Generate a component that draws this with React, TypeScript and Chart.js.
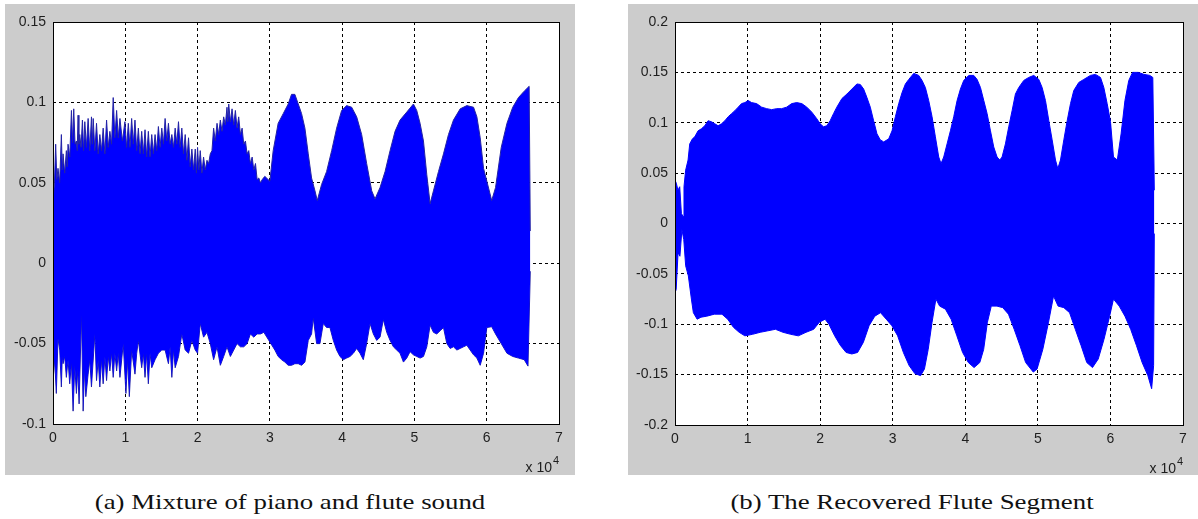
import React, { useEffect, useRef } from "react";
import { Chart, registerables } from "chart.js";

Chart.register(...registerables);

// ---------- axis ticks ----------
const xTicks = [0, 1, 2, 3, 4, 5, 6, 7];
const xTickLabels = ["0", "1", "2", "3", "4", "5", "6", "7"];
const xScaleText = "x 10";
const xScaleExp = "4";

const aYTicks = [-0.1, -0.05, 0, 0.05, 0.1, 0.15];
const aYTickLabels = ["-0.1", "-0.05", "0", "0.05", "0.1", "0.15"];
const bYTicks = [-0.2, -0.15, -0.1, -0.05, 0, 0.05, 0.1, 0.15, 0.2];
const bYTickLabels = ["-0.2", "-0.15", "-0.1", "-0.05", "0", "0.05", "0.1", "0.15", "0.2"];

const captionA = "(a) Mixture of piano and flute sound";
const captionB = "(b) The Recovered Flute Segment";

// ---------- (a) mixture: upper envelope (sample index, x10^4) ----------
const aUpperX = [
  0.000, 0.020, 0.037, 0.053, 0.069, 0.092, 0.116, 0.128, 0.139, 0.162, 0.185, 0.197, 0.208, 0.232,
  0.255, 0.271, 0.287, 0.305, 0.324, 0.335, 0.347, 0.358, 0.370, 0.388, 0.407, 0.423, 0.440, 0.463,
  0.486, 0.509, 0.532, 0.544, 0.556, 0.579, 0.602, 0.625, 0.648, 0.671, 0.694, 0.718, 0.741, 0.764,
  0.787, 0.810, 0.833, 0.856, 0.880, 0.903, 0.926, 0.960, 0.995, 1.018, 1.042, 1.065, 1.088, 1.111,
  1.134, 1.158, 1.181, 1.204, 1.227, 1.250, 1.273, 1.296, 1.319, 1.342, 1.366, 1.389, 1.412, 1.435,
  1.458, 1.481, 1.505, 1.528, 1.551, 1.574, 1.597, 1.620, 1.644, 1.667, 1.690, 1.713, 1.736, 1.759,
  1.782, 1.805, 1.829, 1.852, 1.875, 1.898, 1.921, 1.944, 1.968, 1.984, 2.000, 2.018, 2.037, 2.060,
  2.083, 2.106, 2.130, 2.153, 2.176, 2.199, 2.222, 2.245, 2.269, 2.292, 2.315, 2.338, 2.361, 2.384,
  2.407, 2.419, 2.431, 2.454, 2.477, 2.500, 2.523, 2.546, 2.569, 2.593, 2.616, 2.639, 2.662, 2.685,
  2.708, 2.731, 2.755, 2.778, 2.801, 2.824, 2.847, 2.870, 2.894, 2.930, 3.000, 3.046, 3.115, 3.185,
  3.254, 3.300, 3.346, 3.393, 3.439, 3.485, 3.531, 3.577, 3.624, 3.656, 3.716, 3.785, 3.855, 3.924,
  3.993, 4.062, 4.132, 4.201, 4.270, 4.339, 4.409, 4.455, 4.524, 4.594, 4.663, 4.732, 4.801, 4.894,
  4.986, 5.032, 5.078, 5.125, 5.171, 5.217, 5.263, 5.333, 5.402, 5.471, 5.540, 5.633, 5.725, 5.818,
  5.864, 5.910, 5.956, 6.002, 6.069, 6.122, 6.201, 6.280, 6.360, 6.439, 6.519, 6.587, 6.603,
];
const aUpperY = [
  0.038, 0.050, 0.074, 0.052, 0.059, 0.050, 0.080, 0.058, 0.068, 0.056, 0.070, 0.060, 0.074, 0.066,
  0.095, 0.075, 0.096, 0.074, 0.076, 0.070, 0.092, 0.074, 0.080, 0.072, 0.089, 0.070, 0.088, 0.072,
  0.090, 0.070, 0.091, 0.074, 0.090, 0.070, 0.087, 0.068, 0.080, 0.070, 0.084, 0.068, 0.089, 0.072,
  0.082, 0.074, 0.103, 0.078, 0.095, 0.078, 0.090, 0.076, 0.088, 0.072, 0.087, 0.072, 0.090, 0.074,
  0.089, 0.070, 0.084, 0.068, 0.082, 0.068, 0.083, 0.066, 0.082, 0.066, 0.080, 0.068, 0.080, 0.070,
  0.085, 0.072, 0.084, 0.074, 0.090, 0.076, 0.087, 0.074, 0.080, 0.072, 0.084, 0.074, 0.088, 0.072,
  0.084, 0.068, 0.080, 0.064, 0.078, 0.060, 0.071, 0.058, 0.071, 0.056, 0.072, 0.058, 0.070, 0.056,
  0.066, 0.058, 0.064, 0.062, 0.068, 0.070, 0.084, 0.076, 0.087, 0.080, 0.089, 0.082, 0.091, 0.086,
  0.097, 0.088, 0.099, 0.088, 0.096, 0.086, 0.095, 0.084, 0.091, 0.080, 0.084, 0.074, 0.076, 0.068,
  0.070, 0.062, 0.066, 0.058, 0.062, 0.052, 0.053, 0.050, 0.052, 0.054, 0.051, 0.070, 0.087, 0.093,
  0.099, 0.105, 0.105, 0.099, 0.093, 0.084, 0.068, 0.053, 0.045, 0.039, 0.049, 0.057, 0.070, 0.084,
  0.095, 0.098, 0.097, 0.091, 0.080, 0.062, 0.045, 0.040, 0.047, 0.057, 0.070, 0.082, 0.089, 0.094,
  0.099, 0.095, 0.087, 0.076, 0.055, 0.037, 0.045, 0.057, 0.068, 0.080, 0.089, 0.096, 0.098, 0.097,
  0.091, 0.078, 0.059, 0.051, 0.039, 0.047, 0.072, 0.087, 0.097, 0.103, 0.107, 0.110, 0.020,
];

// ---------- (a) mixture: lower envelope ----------
const aLowerX = [
  0.000, 0.023, 0.046, 0.069, 0.093, 0.116, 0.128, 0.139, 0.162, 0.185, 0.208, 0.231, 0.255, 0.278,
  0.301, 0.324, 0.343, 0.361, 0.394, 0.417, 0.435, 0.454, 0.486, 0.509, 0.532, 0.579, 0.602, 0.625,
  0.648, 0.671, 0.694, 0.718, 0.741, 0.764, 0.787, 0.810, 0.833, 0.856, 0.880, 0.903, 0.926, 0.972,
  1.009, 1.032, 1.056, 1.088, 1.134, 1.158, 1.181, 1.227, 1.250, 1.273, 1.296, 1.319, 1.342, 1.366,
  1.412, 1.458, 1.505, 1.551, 1.597, 1.620, 1.644, 1.667, 1.690, 1.736, 1.782, 1.829, 1.875, 1.921,
  1.968, 2.000, 2.037, 2.083, 2.130, 2.176, 2.222, 2.269, 2.315, 2.361, 2.407, 2.454, 2.500, 2.546,
  2.593, 2.639, 2.685, 2.731, 2.778, 2.824, 2.870, 2.917, 3.000, 3.069, 3.115, 3.162, 3.208, 3.254,
  3.300, 3.346, 3.393, 3.439, 3.485, 3.531, 3.577, 3.600, 3.647, 3.693, 3.739, 3.785, 3.831, 3.878,
  3.924, 3.970, 4.016, 4.062, 4.109, 4.155, 4.201, 4.247, 4.293, 4.339, 4.386, 4.432, 4.478, 4.524,
  4.570, 4.617, 4.663, 4.709, 4.755, 4.801, 4.848, 4.894, 4.940, 4.986, 5.032, 5.079, 5.125, 5.171,
  5.217, 5.263, 5.309, 5.356, 5.402, 5.448, 5.494, 5.540, 5.587, 5.633, 5.679, 5.725, 5.771, 5.818,
  5.864, 5.910, 5.956, 6.002, 6.069, 6.122, 6.201, 6.280, 6.360, 6.439, 6.519, 6.571, 6.603,
];
const aLowerY = [
  -0.073, -0.060, -0.081, -0.047, -0.054, -0.077, -0.058, -0.0625, -0.058, -0.071, -0.060, -0.075, -0.062, -0.092,
  -0.064, -0.081, -0.066, -0.0875, -0.032, -0.092, -0.066, -0.083, -0.069, -0.060, -0.077, -0.044, -0.073, -0.060,
  -0.077, -0.060, -0.075, -0.058, -0.073, -0.058, -0.067, -0.056, -0.071, -0.056, -0.067, -0.056, -0.071, -0.050,
  -0.081, -0.060, -0.083, -0.054, -0.069, -0.056, -0.048, -0.065, -0.056, -0.071, -0.056, -0.075, -0.056, -0.065,
  -0.060, -0.056, -0.054, -0.054, -0.0625, -0.052, -0.071, -0.054, -0.065, -0.058, -0.044, -0.054, -0.056, -0.048,
  -0.054, -0.056, -0.0375, -0.046, -0.043, -0.050, -0.060, -0.052, -0.0635, -0.058, -0.052, -0.058, -0.054, -0.050,
  -0.052, -0.052, -0.050, -0.044, -0.046, -0.044, -0.044, -0.043, -0.049, -0.054, -0.058, -0.060, -0.0615, -0.0635,
  -0.0635, -0.0625, -0.0625, -0.0635, -0.0615, -0.048, -0.044, -0.034, -0.050, -0.050, -0.0375, -0.040, -0.040, -0.048,
  -0.054, -0.058, -0.060, -0.059, -0.058, -0.056, -0.053, -0.056, -0.060, -0.050, -0.0375, -0.044, -0.048, -0.046,
  -0.035, -0.043, -0.048, -0.052, -0.054, -0.056, -0.0615, -0.059, -0.055, -0.057, -0.058, -0.059, -0.058, -0.052,
  -0.0385, -0.043, -0.044, -0.042, -0.040, -0.050, -0.053, -0.052, -0.054, -0.053, -0.052, -0.051, -0.054, -0.057,
  -0.059, -0.0635, -0.056, -0.040, -0.0395, -0.044, -0.050, -0.056, -0.058, -0.059, -0.060, -0.064, -0.005,
];

// ---------- (b) recovered flute: upper envelope ----------
const bUpperX = [
  0.000, 0.018, 0.041, 0.065, 0.088, 0.111, 0.124, 0.147, 0.180, 0.203, 0.240, 0.272, 0.318, 0.364,
  0.410, 0.456, 0.502, 0.548, 0.594, 0.641, 0.687, 0.733, 0.779, 0.825, 0.871, 0.917, 0.963, 1.009,
  1.055, 1.124, 1.194, 1.263, 1.332, 1.401, 1.470, 1.539, 1.608, 1.677, 1.747, 1.816, 1.885, 1.954,
  2.000, 2.046, 2.092, 2.138, 2.184, 2.230, 2.300, 2.369, 2.438, 2.507, 2.553, 2.599, 2.645, 2.691,
  2.737, 2.783, 2.829, 2.876, 2.945, 2.991, 3.037, 3.083, 3.129, 3.175, 3.221, 3.290, 3.358, 3.404,
  3.450, 3.496, 3.542, 3.588, 3.634, 3.666, 3.703, 3.749, 3.795, 3.841, 3.887, 3.933, 3.979, 4.048,
  4.117, 4.163, 4.209, 4.255, 4.301, 4.347, 4.392, 4.438, 4.475, 4.507, 4.553, 4.599, 4.645, 4.691,
  4.737, 4.806, 4.875, 4.944, 5.013, 5.059, 5.105, 5.151, 5.197, 5.243, 5.275, 5.312, 5.358, 5.404,
  5.450, 5.495, 5.564, 5.633, 5.725, 5.794, 5.863, 5.909, 5.955, 6.001, 6.042, 6.095, 6.147, 6.200,
  6.253, 6.305, 6.384, 6.463, 6.542, 6.584, 6.605,
];
const bUpperY = [
  0.043, 0.040, 0.033, 0.0365, 0.010, 0.007, 0.0365, 0.053, 0.063, 0.079, 0.084, 0.086, 0.092, 0.094,
  0.097, 0.102, 0.101, 0.099, 0.097, 0.099, 0.102, 0.106, 0.109, 0.112, 0.1155, 0.119, 0.120, 0.122,
  0.120, 0.119, 0.1155, 0.114, 0.113, 0.114, 0.114, 0.1155, 0.119, 0.120, 0.119, 0.1155, 0.1105, 0.104,
  0.099, 0.096, 0.097, 0.102, 0.109, 0.1155, 0.124, 0.1285, 0.1335, 0.1385, 0.138, 0.1335, 0.125, 0.1155,
  0.102, 0.089, 0.083, 0.081, 0.084, 0.092, 0.106, 0.119, 0.130, 0.1385, 0.143, 0.149, 0.147, 0.142,
  0.135, 0.122, 0.106, 0.086, 0.066, 0.0595, 0.066, 0.079, 0.092, 0.106, 0.122, 0.1335, 0.142, 0.147,
  0.147, 0.143, 0.135, 0.122, 0.109, 0.092, 0.076, 0.066, 0.063, 0.066, 0.079, 0.096, 0.112, 0.1285,
  0.135, 0.142, 0.145, 0.147, 0.143, 0.135, 0.122, 0.102, 0.083, 0.063, 0.0545, 0.063, 0.083, 0.102,
  0.119, 0.132, 0.140, 0.143, 0.147, 0.148, 0.145, 0.135, 0.119, 0.101, 0.066, 0.063, 0.089, 0.122,
  0.142, 0.150, 0.150, 0.148, 0.147, 0.145, 0.033,
];

// ---------- (b) recovered flute: lower envelope ----------
const bLowerX = [
  0.000, 0.016, 0.042, 0.068, 0.095, 0.121, 0.147, 0.184, 0.226, 0.253, 0.305, 0.358, 0.437, 0.542,
  0.647, 0.726, 0.805, 0.884, 0.963, 1.068, 1.174, 1.279, 1.384, 1.489, 1.595, 1.700, 1.805, 1.911,
  1.989, 2.068, 2.121, 2.200, 2.279, 2.358, 2.437, 2.516, 2.595, 2.674, 2.753, 2.832, 2.911, 2.989,
  3.068, 3.147, 3.226, 3.305, 3.384, 3.437, 3.489, 3.542, 3.595, 3.647, 3.726, 3.805, 3.884, 3.963,
  4.042, 4.121, 4.200, 4.253, 4.305, 4.358, 4.437, 4.516, 4.595, 4.674, 4.753, 4.832, 4.937, 4.989,
  5.068, 5.147, 5.216, 5.279, 5.358, 5.437, 5.516, 5.595, 5.674, 5.753, 5.832, 5.911, 5.989, 6.042,
  6.121, 6.200, 6.279, 6.358, 6.437, 6.516, 6.568, 6.595, 6.605,
];
const bLowerY = [
  -0.069, -0.0655, -0.029, -0.0325, -0.006, -0.016, -0.042, -0.052, -0.075, -0.0885, -0.095, -0.093, -0.092, -0.090,
  -0.090, -0.095, -0.103, -0.108, -0.1115, -0.110, -0.108, -0.1065, -0.105, -0.108, -0.110, -0.1115, -0.108, -0.105,
  -0.098, -0.095, -0.100, -0.1115, -0.121, -0.128, -0.1295, -0.128, -0.118, -0.1015, -0.092, -0.0885, -0.095, -0.1015,
  -0.1115, -0.128, -0.141, -0.149, -0.151, -0.1445, -0.125, -0.098, -0.075, -0.082, -0.085, -0.095, -0.1115, -0.128,
  -0.138, -0.143, -0.138, -0.125, -0.098, -0.082, -0.082, -0.0835, -0.090, -0.105, -0.121, -0.138, -0.1475, -0.1445,
  -0.125, -0.098, -0.072, -0.082, -0.0835, -0.0885, -0.105, -0.121, -0.138, -0.143, -0.1345, -0.115, -0.092, -0.075,
  -0.082, -0.092, -0.105, -0.121, -0.138, -0.151, -0.164, -0.141, -0.010,
];

// ---------- chart construction ----------
const TICK_FONT = { family: "'Liberation Sans', Arial, sans-serif", size: 14 };
const TICK_COLOR = "#1e1e1e";

function toPoints(xs: number[], ys: number[]) {
  return xs.map((x, i) => ({ x, y: ys[i] }));
}

type PanelSpec = {
  upperX: number[];
  upperY: number[];
  lowerX: number[];
  lowerY: number[];
  yTicks: number[];
  yLabels: string[];
  padRight: number;
  yWidth: number;
  xHeight: number;
  edgeColor: string;
};

function WavePanel({ spec, width, height }: { spec: PanelSpec; width: number; height: number }) {
  const ref = useRef<HTMLCanvasElement | null>(null);

  useEffect(() => {
    if (!ref.current) return;
    const framePlugin = {
      id: "matlabFrame",
      beforeDraw(chart: any) {
        const { ctx, chartArea: a } = chart;
        ctx.save();
        ctx.fillStyle = "#cccccc";
        ctx.fillRect(0, 0, chart.width, chart.height);
        ctx.fillStyle = "#ffffff";
        ctx.fillRect(a.left, a.top, a.right - a.left, a.bottom - a.top);
        ctx.restore();
      },
      afterDraw(chart: any) {
        const { ctx, chartArea: a } = chart;
        ctx.save();
        ctx.strokeStyle = "#000000";
        ctx.lineWidth = 1;
        ctx.setLineDash([]);
        ctx.strokeRect(Math.round(a.left) + 0.5, Math.round(a.top) + 0.5, Math.round(a.right - a.left), Math.round(a.bottom - a.top));
        ctx.fillStyle = TICK_COLOR;
        ctx.textBaseline = "alphabetic";
        ctx.font = "14px 'Liberation Sans', Arial, sans-serif";
        ctx.textAlign = "right";
        ctx.fillText(xScaleText, a.right - 7, a.bottom + 48);
        ctx.font = "11px 'Liberation Sans', Arial, sans-serif";
        ctx.textAlign = "left";
        ctx.fillText(xScaleExp, a.right - 6, a.bottom + 40);
        ctx.restore();
      },
    };

    const chart = new Chart(ref.current, {
      type: "line",
      data: {
        datasets: [
          {
            data: toPoints(spec.upperX, spec.upperY),
            fill: "+1",
            backgroundColor: "#0000ff",
            borderColor: spec.edgeColor,
            borderWidth: 1,
            pointRadius: 0,
            tension: 0,
          },
          {
            data: toPoints(spec.lowerX, spec.lowerY),
            fill: false,
            backgroundColor: "#0000ff",
            borderColor: spec.edgeColor,
            borderWidth: 1,
            pointRadius: 0,
            tension: 0,
          },
        ],
      },
      plugins: [framePlugin],
      options: {
        animation: false,
        responsive: false,
        devicePixelRatio: 1,
        events: [],
        layout: { padding: { top: 18, right: spec.padRight, left: 0, bottom: 0 } },
        plugins: { legend: { display: false }, tooltip: { enabled: false }, filler: { propagate: false } },
        scales: {
          x: {
            type: "linear",
            min: 0,
            max: 7,
            afterBuildTicks: (s: any) => {
              s.ticks = xTicks.map((v) => ({ value: v }));
            },
            afterFit: (s: any) => {
              s.height = spec.xHeight;
            },
            ticks: {
              font: TICK_FONT,
              color: TICK_COLOR,
              padding: 6,
              maxRotation: 0,
              autoSkip: false,
              callback: (v: any) => xTickLabels[xTicks.indexOf(Number(v))] ?? "",
            },
            grid: { color: "#000000", lineWidth: 1, drawTicks: false },
            border: { display: false, dash: [3, 3] },
          },
          y: {
            type: "linear",
            min: spec.yTicks[0],
            max: spec.yTicks[spec.yTicks.length - 1],
            afterBuildTicks: (s: any) => {
              s.ticks = spec.yTicks.map((v) => ({ value: v }));
            },
            afterFit: (s: any) => {
              s.width = spec.yWidth;
            },
            ticks: {
              font: TICK_FONT,
              color: TICK_COLOR,
              padding: 7,
              autoSkip: false,
              callback: (v: any) => {
                const i = spec.yTicks.findIndex((t) => Math.abs(t - Number(v)) < 1e-9);
                return i >= 0 ? spec.yLabels[i] : "";
              },
            },
            grid: { color: "#000000", lineWidth: 1, drawTicks: false },
            border: { display: false, dash: [3, 3] },
          },
        },
      } as any,
    });
    return () => chart.destroy();
  }, [spec]);

  return <canvas ref={ref} width={width} height={height} style={{ display: "block", width, height }} />;
}

const specA: PanelSpec = {
  upperX: aUpperX,
  upperY: aUpperY,
  lowerX: aLowerX,
  lowerY: aLowerY,
  yTicks: aYTicks,
  yLabels: aYTickLabels,
  padRight: 16,
  yWidth: 48,
  xHeight: 51,
  edgeColor: "#2323a6",
};

const specB: PanelSpec = {
  upperX: bUpperX,
  upperY: bUpperY,
  lowerX: bLowerX,
  lowerY: bLowerY,
  yTicks: bYTicks,
  yLabels: bYTickLabels,
  padRight: 15,
  yWidth: 47,
  xHeight: 50,
  edgeColor: "#0000ff",
};

const captionStyle: React.CSSProperties = {
  position: "absolute",
  top: 502,
  fontFamily: "'Liberation Serif', 'Times New Roman', serif",
  fontSize: 22,
  color: "#111",
  whiteSpace: "nowrap",
  transform: "translate(-50%, -50%) scaleX(1.22)",
  lineHeight: "24px",
};

export default function App() {
  return (
    <div style={{ position: "absolute", left: 0, top: 0, width: 1198, height: 519, background: "#ffffff", overflow: "hidden" }}>
      <div style={{ position: "absolute", left: 5, top: 4 }}>
        <WavePanel spec={specA} width={570} height={471} />
      </div>
      <div style={{ position: "absolute", left: 628, top: 4 }}>
        <WavePanel spec={specB} width={570} height={471} />
      </div>
      <div style={{ ...captionStyle, left: 290 }}>{captionA}</div>
      <div style={{ ...captionStyle, left: 912 }}>{captionB}</div>
    </div>
  );
}
